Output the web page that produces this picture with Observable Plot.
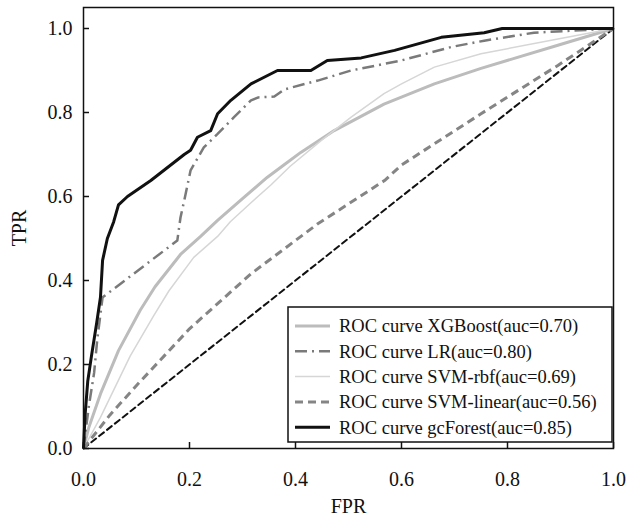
<!DOCTYPE html>
<html>
<head>
<meta charset="utf-8">
<script src="https://cdn.jsdelivr.net/npm/d3@7"></script>
<script src="https://cdn.jsdelivr.net/npm/@observablehq/plot@0.6"></script>
<style>
  html, body { margin: 0; padding: 0; background: #fff; }
  #chart svg { display: block; }
</style>
</head>
<body>
<div id="chart"></div>
<script>
// ---- data ----
const xTicks = [0, 0.2, 0.4, 0.6, 0.8, 1.0];
const yTicks = [0, 0.2, 0.4, 0.6, 0.8, 1.0];

const seriesNames = [
  "ROC curve XGBoost(auc=0.70)",
  "ROC curve LR(auc=0.80)",
  "ROC curve SVM-rbf(auc=0.69)",
  "ROC curve SVM-linear(auc=0.56)",
  "ROC curve gcForest(auc=0.85)"
];

const xgbFPR = [0, 0.01, 0.032, 0.066, 0.107, 0.135, 0.183, 0.221, 0.253, 0.3, 0.347, 0.378, 0.41, 0.473, 0.567, 0.662, 0.75, 0.895, 1];
const xgbTPR = [0, 0.05, 0.13, 0.233, 0.329, 0.385, 0.462, 0.505, 0.543, 0.595, 0.646, 0.675, 0.705, 0.757, 0.82, 0.868, 0.905, 0.96, 1];

const lrFPR = [0, 0.01, 0.02, 0.026, 0.036, 0.177, 0.183, 0.19, 0.202, 0.227, 0.253, 0.284, 0.316, 0.33, 0.36, 0.379, 0.442, 0.505, 0.6, 0.694, 0.756, 0.85, 1];
const lrTPR = [0, 0.1, 0.18, 0.26, 0.36, 0.495, 0.55, 0.59, 0.662, 0.717, 0.749, 0.789, 0.829, 0.836, 0.838, 0.855, 0.876, 0.9, 0.924, 0.956, 0.971, 0.99, 1];

const rbfFPR = [0, 0.032, 0.088, 0.132, 0.161, 0.208, 0.253, 0.277, 0.316, 0.354, 0.39, 0.45, 0.505, 0.567, 0.6, 0.662, 0.75, 0.895, 1];
const rbfTPR = [0, 0.074, 0.22, 0.315, 0.375, 0.455, 0.505, 0.54, 0.585, 0.628, 0.672, 0.735, 0.789, 0.845, 0.868, 0.908, 0.94, 0.975, 1];

const linFPR = [0, 0.05, 0.1, 0.2, 0.316, 0.442, 0.568, 0.6, 0.75, 0.895, 1];
const linTPR = [0, 0.08, 0.15, 0.285, 0.416, 0.535, 0.638, 0.675, 0.797, 0.912, 1];

const gcfFPR = [0, 0.003, 0.008, 0.015, 0.025, 0.032, 0.036, 0.045, 0.057, 0.066, 0.083, 0.127, 0.19, 0.202, 0.215, 0.24, 0.253, 0.278, 0.316, 0.366, 0.429, 0.46, 0.524, 0.587, 0.675, 0.756, 0.79, 1];
const gcfTPR = [0, 0.08, 0.16, 0.22, 0.30, 0.36, 0.448, 0.50, 0.54, 0.58, 0.60, 0.638, 0.70, 0.71, 0.741, 0.757, 0.797, 0.829, 0.868, 0.90, 0.90, 0.924, 0.93, 0.948, 0.979, 0.99, 1.0, 1.0];

const diagFPR = [0, 1];
const diagTPR = [0, 1];

// ---- styles ----
const styles = [
  {stroke: "#bcbcbc", strokeWidth: 3, dash: null},
  {stroke: "#7a7a7a", strokeWidth: 2.5, dash: "12,5,2,5"},
  {stroke: "#d6d6d6", strokeWidth: 1.5, dash: null},
  {stroke: "#858585", strokeWidth: 3, dash: "8,5"},
  {stroke: "#111111", strokeWidth: 3, dash: null}
];

const toRows = (fpr, tpr) => fpr.map((f, i) => ({fpr: f, tpr: tpr[i]}));
const series = [
  toRows(xgbFPR, xgbTPR),
  toRows(lrFPR, lrTPR),
  toRows(rbfFPR, rbfTPR),
  toRows(linFPR, linTPR),
  toRows(gcfFPR, gcfTPR)
];

const font = "'Liberation Serif', 'Times New Roman', serif";
const fmt = d3.format(".1f");

const lineMarks = series.map((rows, i) => Plot.line(rows, {
  x: "fpr", y: "tpr",
  stroke: styles[i].stroke,
  strokeWidth: styles[i].strokeWidth,
  strokeDasharray: styles[i].dash,
  strokeLinejoin: "round",
  strokeLinecap: "butt"
}));

const plot = Plot.plot({
  width: 628,
  height: 517,
  marginLeft: 83,
  marginRight: 15,
  marginTop: 7,
  marginBottom: 69,
  style: {fontFamily: font, fontSize: "20px", background: "white", color: "#111"},
  x: {domain: [0, 1]},
  y: {domain: [0, 1.05]},
  marks: [
    Plot.line(toRows(diagFPR, diagTPR), {x: "fpr", y: "tpr", stroke: "#111", strokeWidth: 2, strokeDasharray: "6,4"}),
    ...lineMarks,
    // tick labels + axis titles
    Plot.axisX({ticks: xTicks, tickFormat: fmt, tickSize: 0, tickPadding: 23, fontSize: 20, label: "FPR", labelAnchor: "center", labelArrow: "none", labelOffset: 64}),
    Plot.axisY({ticks: yTicks, tickFormat: fmt, tickSize: 0, tickPadding: 11, fontSize: 20, label: "TPR", labelAnchor: "center", labelArrow: "none", labelOffset: 72}),
    // inward tick marks
    Plot.axisX({ticks: xTicks, tickFormat: () => "", tickSize: 6, dy: -6, label: null, stroke: "#111", strokeWidth: 1.5}),
    Plot.axisY({ticks: yTicks, tickFormat: () => "", tickSize: 6, dx: 6, label: null, stroke: "#111", strokeWidth: 1.5}),
    Plot.frame({stroke: "#111", strokeWidth: 1.5})
  ]
});

document.getElementById("chart").appendChild(plot);

// ---- legend inside the plot (bottom-right) ----
const svg = d3.select(plot);
const lg = svg.append("g").attr("class", "legend").attr("text-anchor", "start");
const boxX = 288, boxY = 307, boxW = 324, boxH = 135;
lg.append("rect").attr("x", boxX).attr("y", boxY).attr("width", boxW).attr("height", boxH)
  .attr("fill", "white").attr("stroke", "#111").attr("stroke-width", 1.5);
seriesNames.forEach((name, i) => {
  const cy = boxY + 19 + i * 25.3;
  lg.append("line").attr("x1", boxX + 7).attr("x2", boxX + 42).attr("y1", cy).attr("y2", cy)
    .attr("stroke", styles[i].stroke).attr("stroke-width", styles[i].strokeWidth)
    .attr("stroke-dasharray", styles[i].dash);
  lg.append("text").attr("x", boxX + 51).attr("y", cy).attr("dy", "0.35em")
    .attr("text-anchor", "start")
    .attr("font-family", font).attr("font-size", 18.5).attr("fill", "#111")
    .text(name);
});
</script>
</body>
</html>
